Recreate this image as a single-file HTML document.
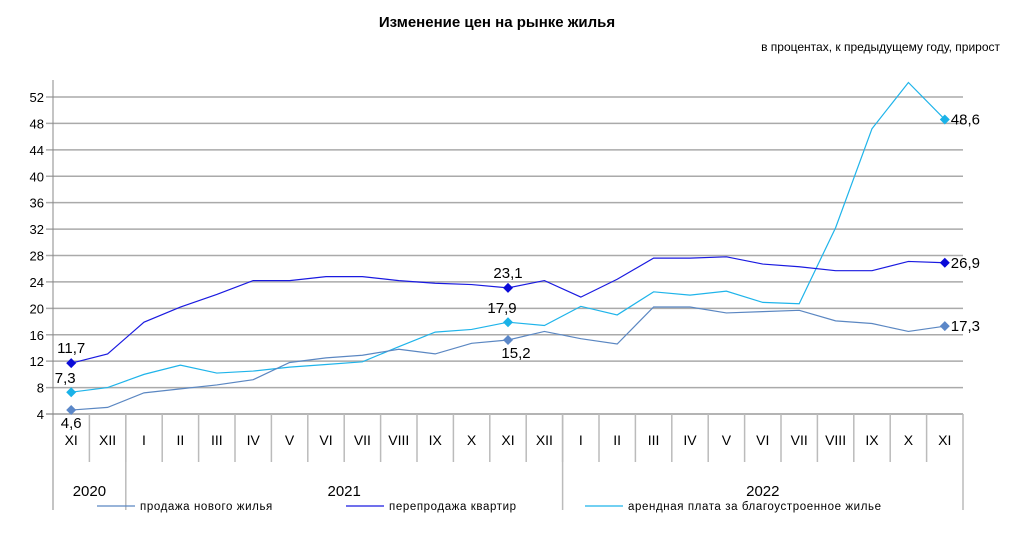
<!DOCTYPE html>
<html><head><meta charset="utf-8"><style>
body{margin:0;background:#fff;width:1017px;height:534px;overflow:hidden;font-family:"Liberation Sans",sans-serif}
svg text{font-family:"Liberation Sans",sans-serif}
</style></head><body>
<svg id="chart" width="1017" height="534" xmlns="http://www.w3.org/2000/svg">
<text x="497" y="27" text-anchor="middle" font-size="15" font-weight="bold" style="font-family:'Liberation Sans Narrow','Liberation Sans',sans-serif">Изменение цен на рынке жилья</text>
<text x="1000" y="51" text-anchor="end" font-size="12" style="font-family:'Liberation Sans Narrow','Liberation Sans',sans-serif">в процентах, к предыдущему году, прирост</text>
<g id="grid"></g><g id="xaxis"></g><g id="series"></g><g id="legend"></g>
</svg>
<script>
const months=["XI","XII","I","II","III","IV","V","VI","VII","VIII","IX","X","XI","XII","I","II","III","IV","V","VI","VII","VIII","IX","X","XI"];
const years=["2020","2021","2022"];
const yearSpans=[2,12,11];
const yTicks=[4,8,12,16,20,24,28,32,36,40,44,48,52];
const newSale=[4.6,5.0,7.2,7.8,8.4,9.2,11.8,12.5,12.9,13.8,13.1,14.7,15.2,16.5,15.4,14.6,20.2,20.2,19.3,19.5,19.7,18.1,17.7,16.5,17.3];
const resale=[11.7,13.1,17.9,20.2,22.1,24.2,24.2,24.8,24.8,24.2,23.8,23.6,23.1,24.2,21.7,24.4,27.6,27.6,27.8,26.7,26.3,25.7,25.7,27.1,26.9];
const rent=[7.3,8.0,10.0,11.4,10.2,10.5,11.1,11.5,11.9,14.2,16.4,16.8,17.9,17.4,20.3,19.0,22.5,22.0,22.6,20.9,20.7,32.2,47.2,54.2,48.6];
const labelIdx=[0,12,24];
const NS="http://www.w3.org/2000/svg";
const L=53,R=963,T=80,B=414,band=(R-L)/months.length;
const xs=i=>L+band*(i+0.5);
const ys=v=>B-(v-4)*(B-97)/48;
function mk(tag,attrs,parent,txt){const e=document.createElementNS(NS,tag);for(const k in attrs)e.setAttribute(k,attrs[k]);if(txt!=null)e.textContent=txt;parent.appendChild(e);return e;}
const grid=document.getElementById('grid');
yTicks.forEach(t=>{
 const l=mk('line',{x1:46,x2:R,y1:ys(t),y2:ys(t),stroke:t==4?'#888':'#aaa','stroke-width':t==4?1.2:1.5},grid);
 
 
 const tx=mk('text',{x:44,y:ys(t)+5,'text-anchor':'end','font-size':13},grid,String(t));
 
 
});
const ax=mk('line',{x1:L,x2:L,y1:T,y2:510,stroke:'#888'},grid);


const xa=document.getElementById('xaxis');
months.forEach((m,i)=>{
 const tx=mk('text',{x:xs(i),y:445,'text-anchor':'middle','font-size':14},xa,m);
 
 
 if(i>0){const s=mk('line',{x1:L+band*i,x2:L+band*i,y1:B,y2:462,stroke:'#bbb','stroke-width':1.5},xa);
 
 }
});
let acc=0;
years.forEach((y,j)=>{
 const x0=L+band*acc;acc+=yearSpans[j];const x1=L+band*acc;
 const s=mk('line',{x1:x1,x2:x1,y1:B,y2:510,stroke:'#bbb','stroke-width':1.5},xa);
 
 
 const tx=mk('text',{x:(x0+x1)/2,y:496,'text-anchor':'middle','font-size':15},xa,y);
 
 
});
const sg=document.getElementById('series');
const defs=[[rent,'#1fb4ea','#1ab2e8','rent-line',[[-6,-9,'middle'],[-6,-9,'middle'],[6,5,'start']]],
 [newSale,'#5b87c2','#5b87c8','new-sale-line',[[0,18,'middle'],[8,18,'middle'],[6,5,'start']]],
 [resale,'#1a1ae0','#0a0ad8','resale-line',[[0,-10,'middle'],[0,-10,'middle'],[6,5,'start']]]];
defs.forEach(([d,c,mc,name,offs])=>{
 const p=mk('polyline',{points:d.map((v,i)=>xs(i)+','+ys(v)).join(' '),fill:'none',stroke:c,'stroke-width':1.2},sg);
 
 
 labelIdx.forEach((i,k)=>{
  const x=xs(i),y=ys(d[i]);
  const m=mk('polygon',{points:`${x},${y-5} ${x+5},${y} ${x},${y+5} ${x-5},${y}`,fill:mc},sg);
  
  
  const o=offs[k];
  const t=mk('text',{x:x+o[0],y:y+o[1],'text-anchor':o[2],'font-size':15},sg,d[i].toFixed(1).replace('.',','));
  
  
 });
});
const lg=document.getElementById('legend');
[[97,'#5b87c2','продажа нового  жилья'],[346,'#1a1ae0','перепродажа  квартир'],[585,'#1fb4ea','арендная плата за благоустроенное   жилье']].forEach(([x,c,t])=>{
 const l=mk('line',{x1:x,x2:x+38,y1:506,y2:506,stroke:c,'stroke-width':1.3},lg);
 
 
 const tx=mk('text',{x:x+43,y:510,'font-size':11.5,'letter-spacing':0.6,'xml:space':'preserve'},lg,t);
 
 
});
</script>
</body></html>
